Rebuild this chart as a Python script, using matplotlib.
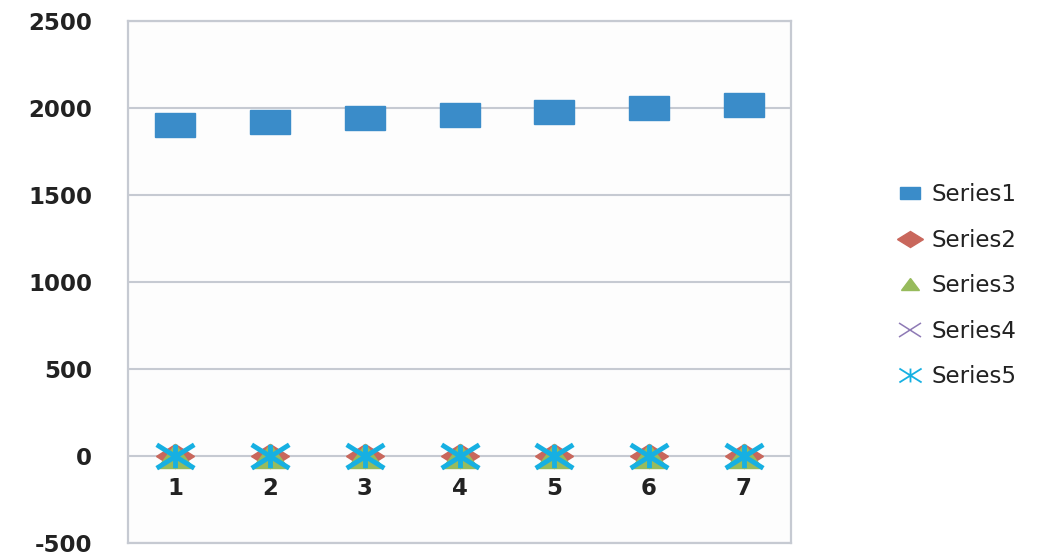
import matplotlib
matplotlib.use('Agg')
import matplotlib.pyplot as plt
from matplotlib.markers import MarkerStyle
from matplotlib.transforms import Affine2D
from matplotlib.path import Path

categories = [1, 2, 3, 4, 5, 6, 7]
series1 = [1900, 1920, 1940, 1960, 1980, 2000, 2020]
series2 = [0, 0, 0, 0, 0, 0, 0]
series3 = [0, 0, 0, 0, 0, 0, 0]
series4 = [0, 0, 0, 0, 0, 0, 0]
series5 = [0, 0, 0, 0, 0, 0, 0]
names = ['Series1', 'Series2', 'Series3', 'Series4', 'Series5']
y_ticks = [-500, 0, 500, 1000, 1500, 2000, 2500]

# markers are drawn a bit wider than tall
def wide(m, sx=1.65):
    return MarkerStyle(m, transform=Affine2D().scale(sx, 1))

# star marker: an x with a vertical bar through it
star = Path([(-1.6, -1), (1.6, 1), (-1.6, 1), (1.6, -1), (0, -1), (0, 1)],
            [Path.MOVETO, Path.LINETO] * 3)

fig = plt.figure(figsize=(10.52, 5.54), dpi=100)
fig.patch.set_facecolor('white')
ax = fig.add_axes([0.1217, 0.02, 0.6303, 0.942])
ax.set_facecolor('#fdfdfd')

grid_c = '#c6cad2'
for s in ax.spines.values():
    s.set_color(grid_c)
    s.set_linewidth(1.6)

ax.set_xlim(0.5, 7.5)
ax.set_ylim(-500, 2500)
ax.set_yticks(y_ticks)
ax.set_yticklabels([str(v) for v in y_ticks], fontsize=16.5, fontweight='bold',
                   color='#222222')
ax.tick_params(axis='y', length=0, pad=26)
ax.set_xticks([])
ax.yaxis.grid(True, color=grid_c, linewidth=1.5)
ax.set_axisbelow(True)

# category labels sit under the zero line
sec = ax.secondary_xaxis(1/6)
sec.set_xticks(categories)
sec.set_xticklabels([str(c) for c in categories], fontsize=16.5,
                    fontweight='bold', color='#222222')
sec.tick_params(length=0, pad=15)
sec.spines['bottom'].set_visible(False)

ax.plot(categories, series1, linestyle='none', marker=wide('s', 1.7),
        markersize=17, color='#3a8cc9', label=names[0])
ax.plot(categories, series2, linestyle='none', marker=wide('D'),
        markersize=12, color='#c9675c', label=names[1])
ax.plot(categories, series3, linestyle='none', marker=wide('^', 1.55),
        markersize=17, color='#97bb5c', label=names[2])
ax.plot(categories, series4, linestyle='none', marker=wide('x'),
        markersize=14, mew=2, color='#8e7ab5', label=names[3])
ax.plot(categories, series5, linestyle='none', marker=star,
        markersize=27, mew=3.5, color='#16b0e2', markerfacecolor='none',
        label=names[4])

leg = fig.legend(loc='center left', bbox_to_anchor=(0.852, 0.484),
                 frameon=False, fontsize=16.5, labelspacing=0.98,
                 handlelength=1.2, handletextpad=0.35, borderpad=0,
                 borderaxespad=0)
sizes = [8.5, 8, 8, 10, 16]
widths = [1, 1, 1, 1.1, 1.3]
for h, ms, mw in zip(leg.legend_handles, sizes, widths):
    h.set_markersize(ms)
    h.set_markeredgewidth(mw)
for t in leg.get_texts():
    t.set_color('#222222')

fig.savefig('out.png', dpi=100)
